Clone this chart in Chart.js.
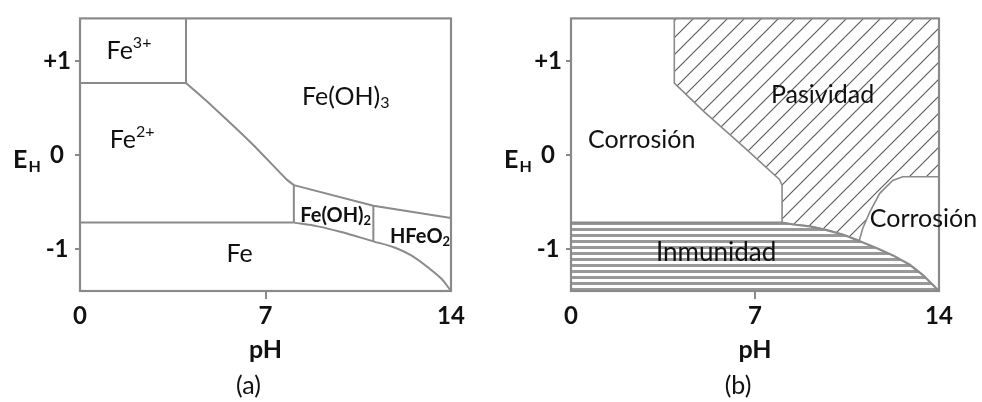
<!DOCTYPE html>
<html>
<head>
<meta charset="utf-8">
<script src="https://cdn.jsdelivr.net/npm/chart.js@4.4.1/dist/chart.umd.min.js"></script>
<style>
  html, body { margin: 0; padding: 0; background: #fff; }
  #wrap { display: flex; width: 982px; height: 402px; }
  canvas { display: block; }
</style>
</head>
<body>
<div id="wrap">
  <canvas id="chartA" width="491" height="402"></canvas>
  <canvas id="chartB" width="491" height="402"></canvas>
</div>
<script>
// axis ticks shared by both panels
const phTicks = [0, 7, 14];
const ehTicks = [-1, 0, 1];
const ehTickLabels = ['-1', '0', '+1'];

// (a) Pourbaix diagram, boundaries as [pH, E_H]
const fe3Fe2Line = [[0, 0.77], [4.0, 0.77]];
const fe3FeOH3Line = [[4.0, 0.77], [4.0, 1.46]];
const fe2FeOH3Line = [[4.0, 0.77], [5.0, 0.52], [6.5, 0.12], [7.8, -0.26], [8.07, -0.32]];
const fe2FeOH2Line = [[8.07, -0.32], [8.07, -0.72]];
const fe2FeLine = [[0, -0.72], [8.07, -0.72]];
const feOH3UpperLine = [[8.07, -0.32], [11.07, -0.54], [14, -0.67]];
const feOH2HFeO2Line = [[11.07, -0.54], [11.07, -0.92]];
const feLowerCurve = [[8.07, -0.72], [8.97, -0.76], [9.86, -0.82], [11.07, -0.92], [11.87, -0.985],
  [12.5, -1.07], [13.14, -1.2], [13.64, -1.32], [14, -1.45]];

// (b) corrosion / passivity / immunity regions
const passivityEdge = [[3.93, 1.46], [3.93, 0.77], [5.08, 0.46], [6.6, 0.08], [7.93, -0.26], [8.03, -0.32],
  [8.03, -0.72], [8.46, -0.74], [9.09, -0.76], [9.73, -0.8], [10.36, -0.85], [10.97, -0.91],
  [11.1, -0.78], [11.36, -0.61], [11.74, -0.41], [12.24, -0.27], [12.62, -0.23], [14, -0.23]];
const immunityEdge = [[0, -0.72], [8.03, -0.72], [8.46, -0.74], [9.09, -0.76], [9.73, -0.8], [10.36, -0.85],
  [10.99, -0.92], [11.62, -0.99], [12.25, -1.07], [12.89, -1.17], [13.39, -1.28], [14, -1.45]];

// region names, placed at [pH, E_H] (text baseline)
const labelsA = [
  {parts: [['Fe'], ['3+', 'sup']], ph: 1.85, eh: 1.03},
  {parts: [['Fe(OH)'], ['3', 'sub']], ph: 10.03, eh: 0.54},
  {parts: [['Fe'], ['2+', 'sup']], ph: 1.97, eh: 0.08},
  {parts: [['Fe(OH)'], ['2', 'sub']], ph: 9.65, eh: -0.71, size: 20, bold: true},
  {parts: [['HFeO'], ['2', 'sub']], ph: 12.83, eh: -0.94, size: 20, bold: true},
  {parts: [['Fe']], ph: 6.02, eh: -1.14}
];
const labelsB = [
  {parts: [['Corrosión']], ph: 2.69, eh: 0.08},
  {parts: [['Pasividad']], ph: 9.57, eh: 0.56},
  {parts: [['Corrosión']], ph: 13.41, eh: -0.77},
  {parts: [['Inmunidad']], ph: 5.52, eh: -1.13, size: 26}
];

const lineGray = '#8a8a8a';
const textColor = '#111111';
const family = 'Lato, "Noto Sans", sans-serif';

function pts(arr) {
  return arr.map(p => ({x: p[0], y: p[1]}));
}

function edge(arr, extra) {
  return Object.assign({
    data: pts(arr), pointRadius: 0, borderColor: lineGray, borderWidth: 2,
    fill: false, tension: 0
  }, extra || {});
}

function hatchPattern() {
  const s = 17;
  const c = document.createElement('canvas');
  c.width = s; c.height = s;
  const g = c.getContext('2d');
  g.fillStyle = '#fff';
  g.fillRect(0, 0, s, s);
  g.strokeStyle = '#5e5e5e';
  g.lineWidth = 1.2;
  g.beginPath();
  g.moveTo(-2, s + 2); g.lineTo(s + 2, -2);
  g.moveTo(-2, 2); g.lineTo(2, -2);
  g.moveTo(s - 2, s + 2); g.lineTo(s + 2, s - 2);
  g.stroke();
  return g.createPattern(c, 'repeat');
}

function stripePattern() {
  const c = document.createElement('canvas');
  c.width = 8; c.height = 6;
  const g = c.getContext('2d');
  g.fillStyle = '#fff';
  g.fillRect(0, 0, 8, 6);
  g.fillStyle = '#999999';
  g.fillRect(0, 0, 8, 3);
  return g.createPattern(c, 'repeat');
}

function drawRich(ctx, x, y, parts, size, bold) {
  const w = bold ? 'bold ' : '';
  const pieces = parts.map(p => {
    const kind = p[1];
    const fs = kind ? Math.round(size * 0.64) : size;
    const font = w + fs + 'px ' + family;
    ctx.font = font;
    const dy = kind === 'sup' ? -0.42 * size : kind === 'sub' ? 0.15 * size : 0;
    return {t: p[0], font, dy, width: ctx.measureText(p[0]).width};
  });
  let cx = x - pieces.reduce((s, p) => s + p.width, 0) / 2;
  pieces.forEach(p => {
    ctx.font = p.font;
    ctx.fillText(p.t, cx, y + p.dy);
    cx += p.width;
  });
}

function makeDecor(labels, caption) {
  return {
    id: 'decor',
    afterDatasetsDraw(chart) {
      const {ctx, chartArea: a} = chart;
      ctx.save();
      ctx.strokeStyle = lineGray;
      ctx.lineWidth = 2.2;
      ctx.strokeRect(a.left, a.top, a.right - a.left, a.bottom - a.top);
      ctx.restore();
    },
    afterDraw(chart) {
      const {ctx, scales: {x, y}, chartArea: a} = chart;
      ctx.save();
      ctx.fillStyle = textColor;
      ctx.textAlign = 'left';
      ctx.textBaseline = 'alphabetic';
      labels.forEach(l => {
        drawRich(ctx, x.getPixelForValue(l.ph), y.getPixelForValue(l.eh), l.parts, l.size || 25, l.bold);
      });
      // E_H axis name
      const y0 = y.getPixelForValue(0) + 13;
      ctx.font = 'bold 25px ' + family;
      ctx.fillText('E', a.left - 67, y0);
      const ew = ctx.measureText('E').width;
      ctx.font = 'bold 16px ' + family;
      ctx.fillText('H', a.left - 67 + ew + 1, y0 + 4);
      // panel caption
      ctx.font = '25px ' + family;
      ctx.textAlign = 'center';
      ctx.textBaseline = 'middle';
      ctx.fillText(caption, (a.left + a.right) / 2 - 17, 386);
      ctx.restore();
    }
  };
}

function makeChart(id, datasets, labels, caption, rightPad) {
  const tickFont = {family, size: 24, weight: 'bold'};
  return new Chart(document.getElementById(id), {
    type: 'line',
    data: {datasets},
    options: {
      responsive: false,
      animation: false,
      devicePixelRatio: 1,
      events: [],
      layout: {padding: {left: 0, top: 10, right: rightPad, bottom: 0}},
      plugins: {legend: {display: false}, tooltip: {enabled: false}, title: {display: false}},
      scales: {
        x: {
          type: 'linear', min: 0, max: 14,
          afterBuildTicks: s => { s.ticks = phTicks.map(v => ({value: v})); },
          afterFit: s => { s.height = 111; },
          border: {display: false},
          grid: {
            drawOnChartArea: false, drawTicks: true, tickLength: 8, lineWidth: 2,
            color: c => (c.tick && c.tick.value === 7) ? lineGray : 'rgba(0,0,0,0)'
          },
          ticks: {font: tickFont, color: textColor, padding: 3, maxRotation: 0, autoSkip: false},
          title: {display: true, text: 'pH', font: {family, size: 25, weight: 'bold'}, color: textColor,
            padding: {top: 0, bottom: 37}}
        },
        y: {
          type: 'linear', min: -1.45, max: 1.46,
          afterBuildTicks: s => { s.ticks = ehTicks.map(v => ({value: v})); },
          afterFit: s => { s.width = 80; },
          border: {display: false},
          grid: {drawOnChartArea: false, drawTicks: true, tickLength: 5, lineWidth: 2, color: lineGray},
          ticks: {
            font: tickFont, color: textColor, padding: 4, crossAlign: 'center', autoSkip: false,
            callback: (v, i) => ehTickLabels[i]
          }
        }
      }
    },
    plugins: [makeDecor(labels, caption)]
  });
}

makeChart('chartA', [
  edge(fe3Fe2Line), edge(fe3FeOH3Line), edge(fe2FeOH3Line, {tension: 0.3}), edge(fe2FeOH2Line),
  edge(fe2FeLine), edge(feOH3UpperLine), edge(feOH2HFeO2Line), edge(feLowerCurve, {tension: 0.35})
], labelsA, '(a)', 40);

makeChart('chartB', [
  edge(immunityEdge, {fill: 'start', backgroundColor: stripePattern(), borderWidth: 2.2}),
  edge(passivityEdge, {fill: 'end', backgroundColor: hatchPattern(), borderWidth: 1.6})
], labelsB, '(b)', 43);
</script>
</body>
</html>
